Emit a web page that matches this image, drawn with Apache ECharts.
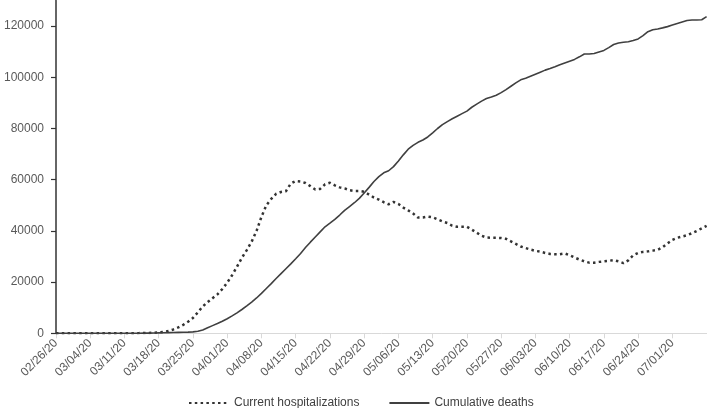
<!DOCTYPE html>
<html>
<head>
<meta charset="utf-8">
<title>Hospitalizations and deaths</title>
<script src="https://cdn.jsdelivr.net/npm/echarts@6/dist/echarts.min.js"></script>
<style>
html, body { margin: 0; padding: 0; background: #fff; }
#main { width: 709px; height: 408px; }
</style>
</head>
<body>
<div id="main"></div>
<script>
// dates, one per day from 02/26/20
var startDate = Date.UTC(2020, 1, 26);
var dayCount = 134;
var dates = [];
for (var i = 0; i < dayCount; i++) {
	var d = new Date(startDate + i * 86400000);
	var mm = ("0" + (d.getUTCMonth() + 1)).slice(-2);
	var dd = ("0" + d.getUTCDate()).slice(-2);
	dates.push(mm + "/" + dd + "/20");
}

// Current hospitalizations
var hospitalizations = [
	0, 0, 0, 0, 0, 0, 0,
	0, 0, 0, 0, 0, 0, 0,
	0, 0, 50, 80, 120, 160, 220,
	300, 500, 900, 1500, 2300, 3300, 4500,
	6000, 8200, 10500, 12200, 13700, 15200, 17300,
	19800, 22700, 26000, 29500, 32500, 35800, 40000,
	45500, 50000, 52500, 54500, 55200, 55500, 58500,
	59500, 59300, 58700, 57500, 56200, 56400, 58200,
	58800, 57800, 57000, 56600, 55900, 55600, 55600,
	55300, 54200, 53000, 52200, 51200, 50400, 51300,
	50500, 49100, 48000, 46800, 45200, 45200, 45600,
	45300, 44500, 43700, 43100, 42000, 41600, 41600,
	41600, 40500, 39300, 38100, 37400, 37300, 37300,
	37200, 36900, 35900, 34900, 33900, 33300, 32700,
	32200, 31900, 31400, 31000, 30900, 30900, 31200,
	30500, 29600, 28800, 28100, 27600, 27600, 27900,
	28100, 28300, 28600, 28100, 27400, 28500, 30500,
	31400, 31800, 32000, 32300, 32600, 33600, 35100,
	36500, 37300, 37800, 38300, 39100, 40000, 41000,
	42000
];

// Cumulative deaths
var deaths = [
	0, 0, 0, 0, 0, 0, 0,
	0, 0, 0, 0, 0, 0, 0,
	0, 10, 20, 30, 50, 70, 100,
	150, 200, 250, 300, 350, 400, 450,
	550, 800, 1300, 2200, 3000, 3800, 4700,
	5700, 6800, 8000, 9300, 10700, 12200, 13800,
	15600, 17500, 19400, 21400, 23300, 25200, 27100,
	29100, 31200, 33500, 35600, 37600, 39600, 41600,
	43000, 44500, 46200, 48000, 49500, 51000, 52700,
	54800, 57000, 59300, 61200, 62700, 63500, 65100,
	67300, 69700, 71900, 73400, 74600, 75500, 76700,
	78300, 80000, 81500, 82700, 83800, 84800, 85800,
	86800, 88300, 89500, 90700, 91700, 92300, 93000,
	94000, 95200, 96500, 97800, 99000, 99600, 100400,
	101200, 102000, 102800, 103400, 104100, 104900, 105600,
	106300, 107000, 108000, 109100, 109100, 109300, 109900,
	110500, 111600, 112800, 113400, 113700, 113900, 114400,
	115000, 116300, 117800, 118600, 118900, 119300, 119800,
	120400, 121000, 121600, 122200, 122400, 122400, 122500,
	123700
];

var seriesNames = ["Current hospitalizations", "Cumulative deaths"];

var myChart = echarts.init(document.getElementById("main"));

var font = "'Liberation Sans', 'DejaVu Sans', sans-serif";

var option = {
	animation: false,
	backgroundColor: "#ffffff",
	textStyle: { fontFamily: font },
	grid: {
		left: 56,
		right: 2.4,
		top: 0.5,
		bottom: 74.7
	},
	legend: {
		data: seriesNames,
		left: 183,
		top: 392,
		itemWidth: 40,
		itemHeight: 14,
		itemGap: 29,
		itemStyle: { opacity: 0 },	// no round symbol, line only
		textStyle: { color: "#404040", fontSize: 12, fontFamily: font }
	},
	xAxis: {
		type: "category",
		data: dates,
		boundaryGap: false,
		axisLine: { lineStyle: { color: "#d9d9d9", width: 1 } },
		axisTick: {
			interval: 6,
			length: 5,
			lineStyle: { color: "#d9d9d9" }
		},
		axisLabel: {
			interval: 6,
			rotate: 45,
			margin: 8,
			showMaxLabel: false,
			color: "#595959",
			fontSize: 12,
			fontFamily: font
		},
		splitLine: { show: false }
	},
	yAxis: {
		type: "value",
		min: 0,
		max: 130000,
		interval: 20000,
		axisLine: { show: true, lineStyle: { color: "#333333", width: 1.5 } },
		axisTick: { show: true, length: 5, lineStyle: { color: "#333333", width: 1.2 } },
		axisLabel: {
			margin: 12,
			showMaxLabel: false,
			color: "#595959",
			fontSize: 12,
			fontFamily: font,
			formatter: function(v) { return String(v); }
		},
		splitLine: { show: false }
	},
	series: [
		{
			name: seriesNames[0],
			type: "line",
			data: hospitalizations,
			symbol: "none",
			color: "#333333",
			lineStyle: { color: "#333333", width: 2.5, type: [2.5, 3.3], cap: "butt" }
		},
		{
			name: seriesNames[1],
			type: "line",
			data: deaths,
			symbol: "none",
			color: "#404040",
			lineStyle: { color: "#404040", width: 1.6, type: "solid" }
		}
	]
};

myChart.setOption(option);
</script>
</body>
</html>
